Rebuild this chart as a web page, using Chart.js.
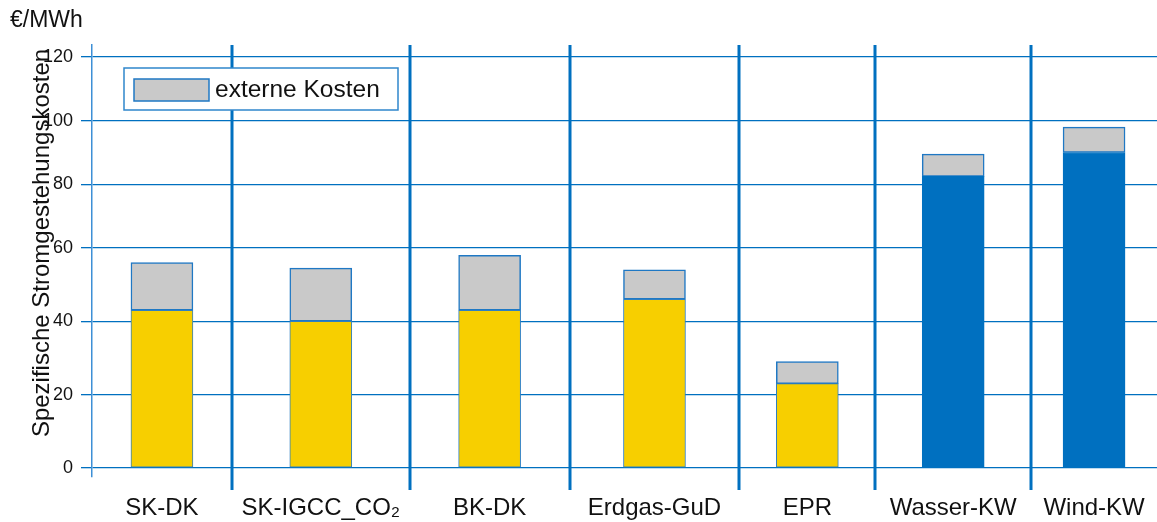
<!DOCTYPE html>
<html>
<head>
<meta charset="utf-8">
<script src="https://cdn.jsdelivr.net/npm/chart.js@4.4.1/dist/chart.umd.min.js"></script>
<style>
  html, body { margin: 0; padding: 0; background: #fff; overflow: hidden; }
</style>
</head>
<body>
<canvas id="costChart" width="1157" height="522"></canvas>
<script>
//chart data
var categories = ["SK-DK", "SK-IGCC_CO₂", "BK-DK", "Erdgas-GuD", "EPR", "Wasser-KW", "Wind-KW"];
var plantType = ["thermisch", "thermisch", "thermisch", "thermisch", "thermisch", "erneuerbar", "erneuerbar"];
var baseCosts = [43, 40, 43, 46, 23, 82.5, 90];
var externalCosts = [13, 14.5, 15, 8, 6, 7, 8];
var yTicks = [0, 20, 40, 60, 80, 100, 120];

//look of the chart
var FONT = "'Liberation Sans', Arial, sans-serif";
var BLUE = "#0070c0";
var typeColor = { thermisch: "#f7cf00", erneuerbar: "#0070c0" };
var typeBorder = { thermisch: "#2f7fc1", erneuerbar: "#0070c0" };

// the original axis is drawn with a flatter step above 60
var warpFrom = 60;
var upperStretch = 0.868;
// the category slots of the original are not equally wide (relative widths)
var slotWeights = [140, 178, 160, 170, 136, 156, 126];

class WarpedLinearScale extends Chart.LinearScale {
    warp(v) {
        return v <= warpFrom ? v : warpFrom + (v - warpFrom) * upperStretch;
    }
    getPixelForValue(value) {
        if (value === null || value === undefined || isNaN(value)) return NaN;
        var lo = this.warp(this.min), hi = this.warp(this.max);
        return this.getPixelForDecimal((this.warp(value) - lo) / (hi - lo));
    }
}
WarpedLinearScale.id = "warpedLinear";
WarpedLinearScale.defaults = Chart.LinearScale.defaults;

class SlotScale extends Chart.CategoryScale {
    getPixelForDecimal(decimal) {
        var n = slotWeights.length;
        var total = slotWeights.reduce(function (a, b) { return a + b; }, 0);
        var pos = decimal * n;
        var k = Math.min(Math.max(Math.floor(pos), 0), n - 1);
        var before = 0;
        for (var i = 0; i < k; i++) before += slotWeights[i];
        var frac = (before + (pos - k) * slotWeights[k]) / total;
        return this._startPixel + frac * this._length;
    }
}
SlotScale.id = "slots";
SlotScale.defaults = Chart.CategoryScale.defaults;

Chart.register(WarpedLinearScale, SlotScale);

//separators, legend box and the rotated axis title
var decorations = {
    id: "decorations",
    afterDatasetsDraw: function (chart) {
        var ctx = chart.ctx, area = chart.chartArea, x = chart.scales.x;
        ctx.save();

        ctx.strokeStyle = BLUE;
        ctx.lineWidth = 3;
        for (var k = 1; k < categories.length; k++) {
            var px = Math.round(x.getPixelForDecimal(k / categories.length));
            ctx.beginPath();
            ctx.moveTo(px, area.top);
            ctx.lineTo(px, area.bottom + 13);
            ctx.stroke();
        }

        // legend
        var lx = area.left + 32, ly = area.top + 23;
        ctx.fillStyle = "#fff";
        ctx.fillRect(lx, ly, 274, 42);
        ctx.strokeStyle = "#2f86cc";
        ctx.lineWidth = 1.5;
        ctx.strokeRect(lx, ly, 274, 42);
        ctx.fillStyle = "#c9c9c9";
        ctx.fillRect(lx + 10, ly + 11, 75, 22);
        ctx.strokeStyle = "#1f78c4";
        ctx.strokeRect(lx + 10, ly + 11, 75, 22);
        ctx.fillStyle = "#111";
        ctx.font = "24.5px " + FONT;
        ctx.textBaseline = "middle";
        ctx.textAlign = "left";
        ctx.fillText(chart.data.datasets[1].label, lx + 91, ly + 22);

        // y axis title
        ctx.translate(42, 243);
        ctx.rotate(-Math.PI / 2);
        ctx.font = "24px " + FONT;
        ctx.textAlign = "center";
        ctx.fillText("Spezifische Stromgestehungskosten", 0, 0);
        ctx.restore();
    }
};

var chartData = {
    labels: categories,
    datasets: [
        {
            label: "Stromgestehungskosten",
            data: baseCosts,
            backgroundColor: plantType.map(function (t) { return typeColor[t]; }),
            borderColor: plantType.map(function (t) { return typeBorder[t]; }),
            borderWidth: 1,
            borderSkipped: false,
            barThickness: 62
        },
        {
            label: "externe Kosten",
            data: externalCosts,
            backgroundColor: "#c9c9c9",
            borderColor: "#1f78c4",
            borderWidth: 1.5,
            borderSkipped: false,
            barThickness: 62
        }
    ]
};

var config = {
    responsive: false,
    animation: false,
    events: [],
    layout: {
        padding: { top: 0, right: 0, bottom: 0, left: 10 }
    },
    plugins: {
        legend: { display: false },
        tooltip: { enabled: false },
        title: {
            display: true,
            text: "€/MWh",
            align: "start",
            color: "#111",
            font: { family: FONT, size: 23, weight: "normal", lineHeight: 1.2 },
            padding: { top: 7, bottom: 10.4 }
        }
    },
    scales: {
        x: {
            type: "slots",
            stacked: true,
            offset: true,
            afterFit: function (scale) {
                scale.height = 45;
                scale.paddingRight = 0;
                scale.paddingLeft = 0;
            },
            grid: { display: false, drawTicks: false },
            border: { display: false },
            ticks: {
                color: "#111",
                padding: 17,
                maxRotation: 0,
                autoSkip: false,
                font: { family: FONT, size: 24 }
            }
        },
        y: {
            type: "warpedLinear",
            stacked: true,
            min: -2.5,
            max: 123.8,
            afterBuildTicks: function (scale) {
                scale.ticks = yTicks.map(function (v) { return { value: v }; });
            },
            afterFit: function (scale) {
                scale.width = 82;
            },
            grid: {
                color: BLUE,
                lineWidth: 1.3,
                drawTicks: true,
                tickLength: 11,
                tickColor: BLUE
            },
            border: { display: true, color: "#3d8fd6", width: 1.5 },
            ticks: {
                color: "#111",
                padding: 8,
                font: { family: FONT, size: 18 }
            }
        }
    }
};

//generate the chart
var ctx = document.getElementById("costChart"),
    costChart = new Chart(ctx, {
        type: "bar",
        data: chartData,
        options: config,
        plugins: [decorations]
    });
</script>
</body>
</html>
